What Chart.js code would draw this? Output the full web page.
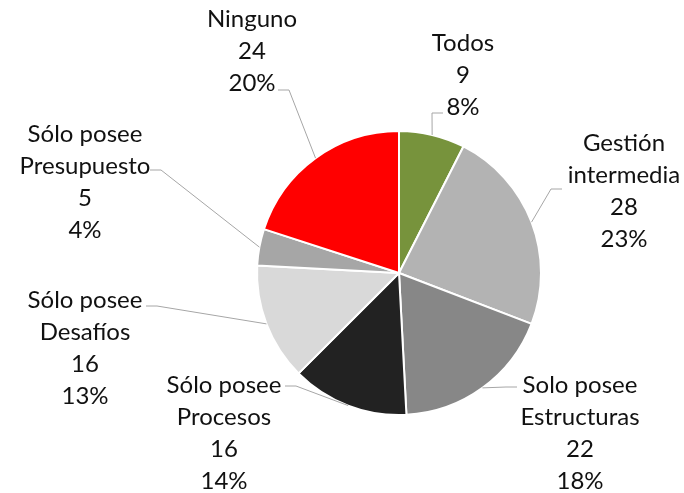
<!DOCTYPE html>
<html>
<head>
<meta charset="utf-8">
<script src="https://cdn.jsdelivr.net/npm/chart.js@4/dist/chart.umd.min.js"></script>
<style>
  html, body { margin: 0; padding: 0; background: #ffffff; }
  #wrap { width: 684px; height: 493px; position: relative; }
</style>
</head>
<body>
<div id="wrap"><canvas id="c" width="684" height="493"></canvas></div>
<script>
// ---- data ----
const categories = [
  ["Todos"],
  ["Gestión", "intermedia"],
  ["Solo posee", "Estructuras"],
  ["Sólo posee", "Procesos"],
  ["Sólo posee", "Desafíos"],
  ["Sólo posee", "Presupuesto"],
  ["Ninguno"]
];
const values = [9, 28, 22, 16, 16, 5, 24];
const percentLabels = ["8%", "23%", "18%", "14%", "13%", "4%", "20%"];
const sliceColors = ["#77933C", "#B3B3B3", "#878787", "#222222", "#D9D9D9", "#A6A6A6", "#FF0000"];

// label layout: text block centre / attach point, offsets from pie centre (px)
const labelLayout = [
  { dx: 64,   dy: -231, ax: 44,   ay: -160 },
  { dx: 225,  dy: -131, ax: 163,  ay: -84  },
  { dx: 181,  dy: 111,  ax: 118,  ay: 114  },
  { dx: -175, dy: 111,  ax: -114, ay: 113  },
  { dx: -314, dy: 26,   ax: -253, ay: 33   },
  { dx: -314, dy: -140, ax: -249, ay: -103 },
  { dx: -147, dy: -255, ax: -121, ay: -183 }
];

const FONT = '24px Lato, "Open Sans", sans-serif';
const LINE = 32;

const labelPlugin = {
  id: 'pieLabels',
  afterDatasetsDraw(chart) {
    const ctx = chart.ctx;
    const meta = chart.getDatasetMeta(0);
    ctx.save();
    meta.data.forEach((arc, i) => {
      const p = arc.getProps(['x', 'y', 'startAngle', 'endAngle', 'outerRadius'], true);
      const cx = p.x, cy = p.y;
      const mid = (p.startAngle + p.endAngle) / 2;
      const sx = cx + Math.cos(mid) * p.outerRadius;
      const sy = cy + Math.sin(mid) * p.outerRadius;
      const L = labelLayout[i];
      const axp = cx + L.ax, ayp = cy + L.ay;
      const elbowX = (L.dx > L.ax) ? axp - 11 : axp + 11;
      // leader line
      ctx.beginPath();
      ctx.strokeStyle = '#A6A6A6';
      ctx.lineWidth = 1;
      ctx.moveTo(sx, sy);
      ctx.lineTo(elbowX, ayp);
      ctx.lineTo(axp, ayp);
      ctx.stroke();
      // text
      const lines = categories[i].concat([String(values[i]), percentLabels[i]]);
      ctx.font = FONT;
      ctx.fillStyle = '#111111';
      ctx.textAlign = 'center';
      ctx.textBaseline = 'alphabetic';
      lines.forEach((t, k) => {
        ctx.fillText(t, cx + L.dx, cy + L.dy + k * LINE + 8.5);
      });
    });
    ctx.restore();
  }
};

new Chart(document.getElementById('c'), {
  type: 'pie',
  data: {
    labels: categories.map(c => c.join(' ')),
    datasets: [{
      data: values,
      backgroundColor: sliceColors,
      borderColor: '#ffffff',
      borderWidth: 2
    }]
  },
  options: {
    responsive: false,
    animation: false,
    layout: { padding: { top: 130, bottom: 77, left: 256, right: 142 } },
    plugins: {
      legend: { display: false },
      tooltip: { enabled: false }
    }
  },
  plugins: [labelPlugin]
});
</script>
</body>
</html>
